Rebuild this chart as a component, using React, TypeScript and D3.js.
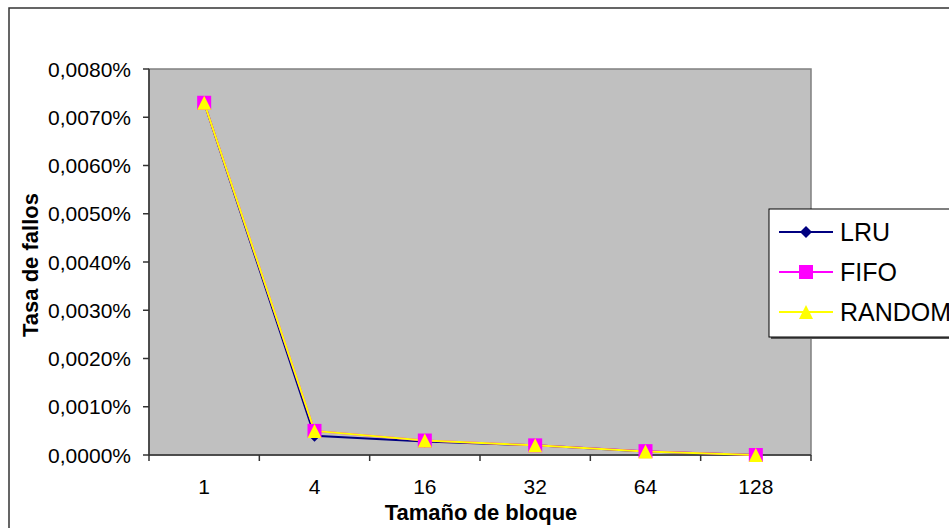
import { useEffect, useRef } from "react";
import * as d3 from "d3";

const categories = ["1", "4", "16", "32", "64", "128"];
const lru = [0.0073, 0.0004, 0.00028, 0.0002, 0.00007, 0.0];
const fifo = [0.0073, 0.0005, 0.0003, 0.0002, 0.00008, 0.0];
const random = [0.0073, 0.0005, 0.0003, 0.0002, 0.00007, 0.0];
const yTicks = [0, 0.001, 0.002, 0.003, 0.004, 0.005, 0.006, 0.007, 0.008];

const FONT = "'Liberation Sans', Arial, sans-serif";

export default function App() {
  const ref = useRef<SVGSVGElement>(null);

  useEffect(() => {
    const el = ref.current;
    if (!el) return;
    const W = 949, H = 528;
    const M = { top: 69, right: 138, bottom: 73, left: 149 };
    const svg = d3.select(el).attr("width", W).attr("height", H);
    svg.selectAll("*").remove();

    // outer chart frame (runs off the page to the right and bottom)
    svg.append("rect").attr("x", 9).attr("y", 8).attr("width", 1000).attr("height", 600)
      .attr("fill", "#fff").attr("stroke", "#333").attr("stroke-width", 1.5);

    const x = d3.scaleBand<string>().domain(categories).range([M.left, W - M.right]);
    const y = d3.scaleLinear().domain([0, 0.008]).range([H - M.bottom, M.top]);

    // plot area
    svg.append("rect").attr("x", M.left).attr("y", M.top).attr("width", W - M.right - M.left).attr("height", H - M.bottom - M.top)
      .attr("fill", "#C0C0C0").attr("stroke", "#808080").attr("stroke-width", 1.5);

    // y axis
    svg.append("line").attr("x1", M.left).attr("x2", M.left).attr("y1", y(0)).attr("y2", y(0.008)).attr("stroke", "#333").attr("stroke-width", 1.5);
    yTicks.forEach((t) => {
      svg.append("line").attr("x1", M.left - 6).attr("x2", M.left).attr("y1", y(t)).attr("y2", y(t)).attr("stroke", "#333").attr("stroke-width", 1.5);
      svg.append("text").attr("x", M.left - 18).attr("y", y(t) + 7.5).attr("text-anchor", "end")
        .attr("font-family", FONT).attr("font-size", 21).attr("fill", "#000")
        .text(t.toFixed(4).replace(".", ",") + "%");
    });

    // x axis
    svg.append("line").attr("x1", M.left).attr("x2", W - M.right).attr("y1", y(0)).attr("y2", y(0)).attr("stroke", "#333").attr("stroke-width", 1.5);
    [...categories.map((c) => x(c) ?? 0), W - M.right].forEach((px) => {
      svg.append("line").attr("x1", px).attr("x2", px).attr("y1", y(0)).attr("y2", y(0) + 6).attr("stroke", "#333").attr("stroke-width", 1.5);
    });
    categories.forEach((c) => {
      svg.append("text").attr("x", (x(c) ?? 0) + x.bandwidth() / 2).attr("y", y(0) + 39).attr("text-anchor", "middle")
        .attr("font-family", FONT).attr("font-size", 21).attr("fill", "#000").text(c);
    });

    // axis titles
    svg.append("text").attr("x", (M.left + W - M.right) / 2 + 1).attr("y", 520).attr("text-anchor", "middle")
      .attr("font-family", FONT).attr("font-size", 22).attr("font-weight", "bold").text("Tamaño de bloque");
    svg.append("text").attr("transform", `translate(38,${(y(0) + y(0.008)) / 2 + 3}) rotate(-90)`).attr("text-anchor", "middle")
      .attr("font-family", FONT).attr("font-size", 22).attr("font-weight", "bold").text("Tasa de fallos");

    const cx = (i: number) => (x(categories[i]) ?? 0) + x.bandwidth() / 2;
    const series = [
      { name: "LRU", v: lru, c: "#000080", m: "diamond" },
      { name: "FIFO", v: fifo, c: "#FF00FF", m: "square" },
      { name: "RANDOM", v: random, c: "#FFFF00", m: "triangle" },
    ];
    const marker = (g: d3.Selection<SVGGElement, unknown, null, undefined>, kind: string, px: number, py: number, c: string) => {
      if (kind === "diamond") g.append("path").attr("d", `M${px},${py - 6}L${px + 6},${py}L${px},${py + 6}L${px - 6},${py}Z`).attr("fill", c);
      else if (kind === "square") g.append("rect").attr("x", px - 7).attr("y", py - 7).attr("width", 14).attr("height", 14).attr("fill", c);
      else g.append("path").attr("d", `M${px},${py - 7}L${px + 7},${py + 7}L${px - 7},${py + 7}Z`).attr("fill", c);
    };

    series.forEach((s) => {
      const line = d3.line<number>().x((_d, i) => cx(i)).y((d) => y(d));
      svg.append("path").datum(s.v).attr("fill", "none").attr("stroke", s.c).attr("stroke-width", 2).attr("d", line);
    });
    series.forEach((s) => {
      const g = svg.append("g");
      s.v.forEach((d, i) => marker(g, s.m, cx(i), y(d), s.c));
    });

    // legend
    const lx = 769, ly = 209;
    svg.append("rect").attr("x", lx + 2).attr("y", ly + 2).attr("width", 300).attr("height", 128).attr("fill", "#555");
    svg.append("rect").attr("x", lx).attr("y", ly).attr("width", 300).attr("height", 128).attr("fill", "#fff").attr("stroke", "#000").attr("stroke-width", 1);
    series.forEach((s, i) => {
      const yy = ly + 23 + i * 40;
      const g = svg.append("g");
      g.append("line").attr("x1", lx + 10).attr("x2", lx + 64).attr("y1", yy).attr("y2", yy).attr("stroke", s.c).attr("stroke-width", 2);
      marker(g, s.m, lx + 37, yy, s.c);
      g.append("text").attr("x", lx + 71).attr("y", yy + 9).attr("font-family", FONT).attr("font-size", 25).attr("fill", "#000").text(s.name);
    });
  }, []);

  return <svg ref={ref} style={{ position: "absolute", left: 0, top: 0 }} role="img" aria-label="Tasa de fallos" />;
}
